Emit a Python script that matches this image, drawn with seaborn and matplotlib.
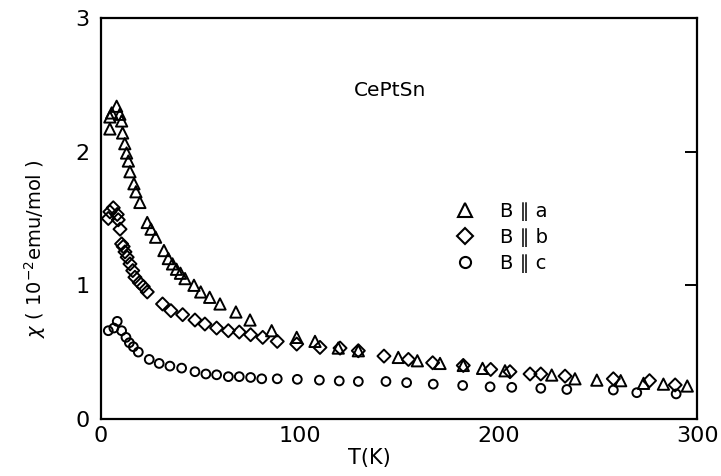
import matplotlib
matplotlib.use("Agg")
import matplotlib.pyplot as plt
import seaborn as sns
import pandas as pd
from matplotlib.lines import Line2D

# Magnetic susceptibility of CePtSn for field along the three crystal axes
T_a = [4.5, 4.5, 5.4, 7.9, 9.5, 10.4, 10.9, 12.0, 12.9, 13.8, 14.6, 16.6, 17.6, 19.6,
       23.3, 25.2, 27.5, 31.7, 33.9, 36.0, 38.0, 40.0, 42.3, 46.8, 50.2, 54.7, 59.9,
       67.9, 75.0, 85.9, 98.5, 107.7, 119.4, 129.5, 149.6, 159.2, 170.6, 182.3, 192.0,
       203.3, 226.8, 238.5, 249.5, 261.5, 273.0, 283.0, 295.0]
chi_a = [2.26, 2.17, 2.29, 2.34, 2.28, 2.23, 2.14, 2.06, 1.99, 1.93, 1.85, 1.76, 1.70, 1.62,
         1.47, 1.42, 1.36, 1.26, 1.20, 1.16, 1.12, 1.09, 1.05, 1.00, 0.95, 0.91, 0.86,
         0.80, 0.74, 0.66, 0.61, 0.58, 0.53, 0.51, 0.46, 0.435, 0.415, 0.40, 0.378,
         0.36, 0.328, 0.30, 0.29, 0.286, 0.266, 0.26, 0.246]

T_b = [3.7, 4.5, 6.2, 8.2, 8.7, 9.6, 10.4, 11.2, 12.1, 13.2, 14.6, 16.0, 17.1, 19.3, 21.3,
       23.3, 31.0, 35.2, 41.1, 47.3, 52.3, 58.2, 64.1, 69.6, 75.3, 81.4, 88.7, 98.5,
       110.2, 120.3, 129.5, 142.4, 154.7, 166.9, 182.3, 196.1, 205.8, 215.9, 221.3,
       233.5, 257.8, 276.0, 288.9]
chi_b = [1.50, 1.55, 1.58, 1.53, 1.49, 1.42, 1.31, 1.29, 1.25, 1.21, 1.16, 1.11, 1.06, 1.02,
         0.99, 0.95, 0.86, 0.81, 0.78, 0.74, 0.71, 0.68, 0.66, 0.65, 0.63, 0.61, 0.58, 0.56,
         0.535, 0.53, 0.51, 0.47, 0.445, 0.42, 0.40, 0.37, 0.353, 0.336, 0.336, 0.32,
         0.30, 0.286, 0.254]

T_c = [3.7, 6.5, 8.2, 10.4, 12.6, 14.3, 16.3, 18.8, 24.3, 29.3, 34.7, 40.6, 47.3, 52.8,
       58.2, 64.1, 69.6, 75.3, 80.9, 88.7, 98.8, 109.9, 119.9, 129.5, 143.4, 153.8,
       167.2, 182.0, 195.8, 206.7, 221.3, 234.4, 257.8, 269.6, 289.4]
chi_c = [0.66, 0.68, 0.73, 0.66, 0.61, 0.57, 0.54, 0.50, 0.445, 0.415, 0.395, 0.38, 0.353,
         0.336, 0.33, 0.316, 0.316, 0.31, 0.30, 0.30, 0.296, 0.29, 0.284, 0.28, 0.28,
         0.271, 0.26, 0.25, 0.24, 0.236, 0.229, 0.22, 0.216, 0.196, 0.187]

series_labels = ["B \u2225 a", "B \u2225 b", "B \u2225 c"]
x_ticks = [0, 100, 200, 300]
y_ticks = [0, 1, 2, 3]

sns.set_style("white")
plt.rcParams["font.family"] = ["DejaVu Sans"]
plt.rcParams["text.color"] = "black"

df = pd.concat([
    pd.DataFrame({"T": T_a, "chi": chi_a, "field": series_labels[0]}),
    pd.DataFrame({"T": T_b, "chi": chi_b, "field": series_labels[1]}),
    pd.DataFrame({"T": T_c, "chi": chi_c, "field": series_labels[2]}),
], ignore_index=True)

fig = plt.figure(figsize=(7.21, 4.76), dpi=100)
ax = fig.add_axes([0.140, 0.120, 0.827, 0.842])

markers = {series_labels[0]: "^", series_labels[1]: "D", series_labels[2]: "o"}
sizes = {series_labels[0]: 66, series_labels[1]: 44, series_labels[2]: 40}
for lab in series_labels:
    sub = df[df["field"] == lab]
    sns.scatterplot(data=sub, x="T", y="chi", ax=ax, marker=markers[lab],
                    s=sizes[lab], facecolor="none", edgecolor="black",
                    linewidth=1.4, legend=False)

ax.set_xlim(0, 300)
ax.set_ylim(0, 3)
ax.set_xticks(x_ticks)
ax.set_yticks(y_ticks)
ax.set_xticklabels([str(v) for v in x_ticks], fontsize=16)
ax.set_yticklabels([str(v) for v in y_ticks], fontsize=16)
ax.tick_params(axis="both", direction="in", length=9, width=1.4, color="black",
               labelcolor="black", right=True, top=False)
ax.tick_params(axis="x", pad=5)
ax.tick_params(axis="y", pad=8)
ax.tick_params(axis="y", which="major", right=True, length=9)
for s in ax.spines.values():
    s.set_color("black")
    s.set_linewidth(1.6)
ax.set_xlabel("")
ax.set_ylabel("")

fig.text(0.512, 0.038, "T(K)", fontsize=15, ha="center", va="center", color="black")
fig.text(0.048, 0.478, r"$\chi$ ( 10$^{-2}$emu/mol )", fontsize=14, rotation=90,
         ha="center", va="center", color="black")
ax.text(0.425, 0.82, "CePtSn", transform=ax.transAxes, fontsize=14.5,
        ha="left", va="center", color="black")

handles = [Line2D([], [], linestyle="none", marker=markers[l], markersize=ms,
                  markerfacecolor="none", markeredgecolor="black", markeredgewidth=1.5)
           for l, ms in zip(series_labels, [9.5, 8.5, 8])]
leg = ax.legend(handles, series_labels, loc="upper left",
                bbox_to_anchor=(0.565, 0.585), frameon=False, fontsize=14,
                handlelength=1.0, handletextpad=1.3, labelspacing=0.35)
for t in leg.get_texts():
    t.set_color("black")

fig.savefig("out.png", dpi=100)
